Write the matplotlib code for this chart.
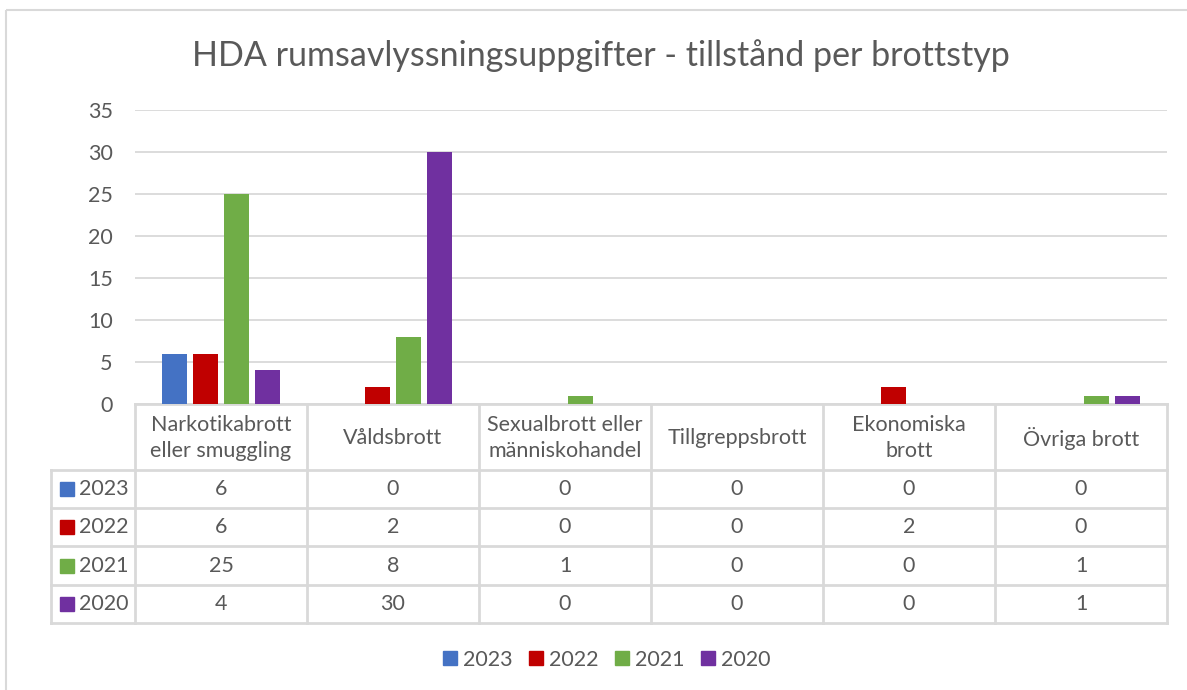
import matplotlib.pyplot as plt
import numpy as np
from matplotlib.lines import Line2D
from matplotlib.patches import Rectangle

plt.rcParams['font.family'] = ['Lato', 'DejaVu Sans']

categories = ['Narkotikabrott\neller smuggling', 'Våldsbrott',
              'Sexualbrott eller\nmänniskohandel', 'Tillgreppsbrott',
              'Ekonomiska\nbrott', 'Övriga brott']
years = ['2023', '2022', '2021', '2020']
v2023 = [6, 0, 0, 0, 0, 0]
v2022 = [6, 2, 0, 0, 2, 0]
v2021 = [25, 8, 1, 0, 0, 1]
v2020 = [4, 30, 0, 0, 0, 1]
series = [v2023, v2022, v2021, v2020]
colors = ['#4472C4', '#C00000', '#70AD47', '#7030A0']
yticks = [0, 5, 10, 15, 20, 25, 30, 35]

W, H = 1187, 690
txt = '#595959'
grid = '#D9D9D9'
fs = 15.5

fig = plt.figure(figsize=(W / 100, H / 100), dpi=100)

# pixel overlay for border and data table
ov = fig.add_axes([0, 0, 1, 1], zorder=0)
ov.set_xlim(0, W)
ov.set_ylim(H, 0)
ov.axis('off')
ov.add_patch(Rectangle((6, 10), W, H, fill=False, ec=grid, lw=1.5))

# plot area
x0, x1, y0, y1 = 135, 1167, 110, 404
ax = fig.add_axes([x0 / W, 1 - y1 / H, (x1 - x0) / W, (y1 - y0) / H], zorder=1)
ax.patch.set_alpha(0)
n = len(categories)
x = np.arange(n)
bw = 0.145
step = 0.18
for i, (vals, c) in enumerate(zip(series, colors)):
    ax.bar(x + (i - 1.5) * step, vals, width=bw, color=c, zorder=3)
ax.set_xlim(-0.5, n - 0.5)
ax.set_ylim(0, 35)
ax.set_yticks(yticks)
ax.tick_params(axis='y', length=0, pad=16, labelsize=fs, labelcolor=txt)
ax.set_xticks([])
ax.grid(axis='y', color=grid, lw=1.3, zorder=0)
for s in ['top', 'right', 'left', 'bottom']:
    ax.spines[s].set_visible(False)

ov.text(601, 56, 'HDA rumsavlyssningsuppgifter - tillstånd per brottstyp',
        ha='center', va='center', fontsize=24.5, color=txt)

# data table
col_w = (x1 - x0) / n
rows_y = [404, 470, 508, 546, 585, 623]
lw = 2
lc = grid
for j in range(n + 1):
    ov.plot([x0 + j * col_w] * 2, [rows_y[0], rows_y[-1]], color=lc, lw=lw)
ov.plot([51, 51], [rows_y[1], rows_y[-1]], color=lc, lw=lw)
ov.plot([x0, x1], [rows_y[0], rows_y[0]], color=lc, lw=lw)
for ry in rows_y[1:]:
    ov.plot([51, x1], [ry, ry], color=lc, lw=lw)
for j, cat in enumerate(categories):
    ov.text(x0 + (j + 0.5) * col_w, (rows_y[0] + rows_y[1]) / 2 + 1, cat,
            ha='center', va='center', fontsize=fs, color=txt, linespacing=1.4)
for i, (yr, vals, c) in enumerate(zip(years, series, colors)):
    cy = (rows_y[i + 1] + rows_y[i + 2]) / 2
    ov.add_patch(Rectangle((60, cy - 7), 14, 14, color=c))
    ov.text(79, cy, yr, ha='left', va='center', fontsize=fs, color=txt)
    for j, v in enumerate(vals):
        ov.text(x0 + (j + 0.5) * col_w, cy, str(v), ha='center', va='center',
                fontsize=fs, color=txt)

handles = [Line2D([], [], marker='s', ls='', color=c, markersize=10) for c in colors]
fig.legend(handles, years, loc='center', bbox_to_anchor=(605 / W, 1 - 660 / H),
           ncol=4, frameon=False, fontsize=fs, labelcolor=txt,
           handletextpad=0.1, columnspacing=0.6, handlelength=1.0)

fig.savefig('out.png', dpi=100)
